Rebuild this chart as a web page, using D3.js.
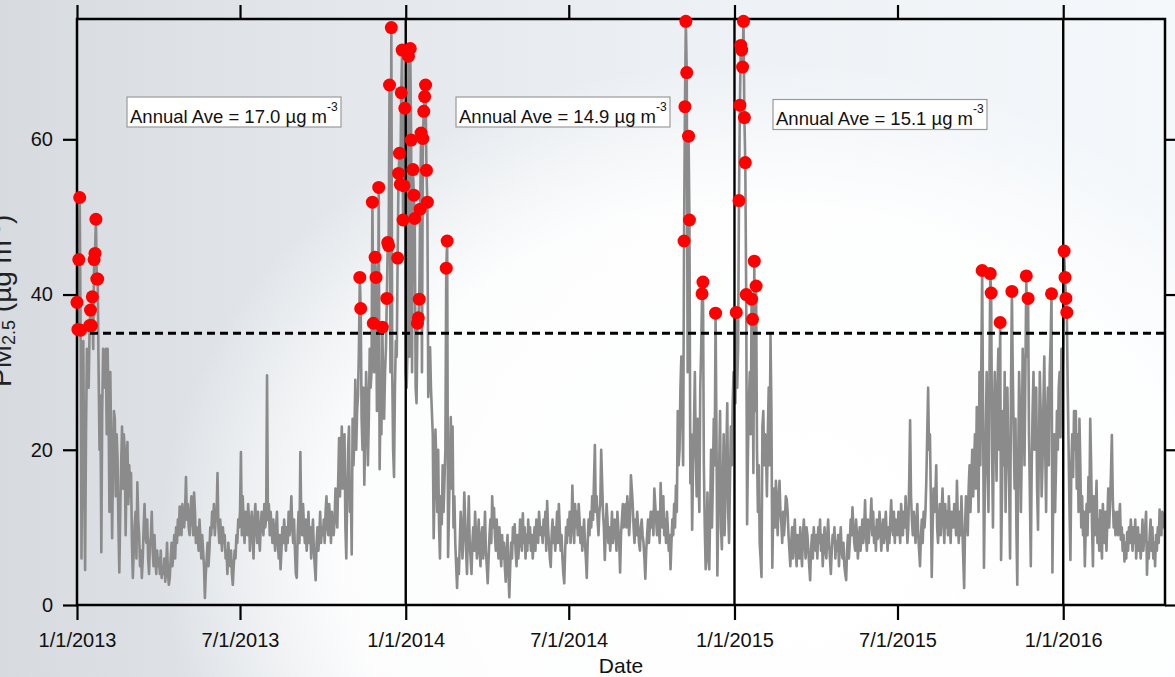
<!DOCTYPE html>
<html>
<head>
<meta charset="utf-8">
<script src="https://cdn.jsdelivr.net/npm/d3@7"></script>
<style>
  html, body { margin: 0; padding: 0; overflow: hidden; background: #e4e8ec; }
  svg { display: block; font-family: Arial, "Liberation Sans", sans-serif; }
</style>
</head>
<body>
<svg id="chart" width="1175" height="677"></svg>
<script>
// daily PM2.5 (ug/m3), one array per month
const pm2013 = [
  [39, 35.5, 44.5, 52.5, 35.4, 6, 28, 34, 15, 4.5, 22, 33, 30, 28, 36, 38, 36, 39.7, 33, 44.5, 45.3, 49.7, 42, 42, 30, 20, 27, 6.8, 25, 33, 32],
  [28, 33, 22, 33, 26, 12, 30, 20, 8.6, 18, 25, 24, 14, 22, 19, 10, 4.2, 12, 18, 23, 15, 22, 20, 9, 17, 21, 13, 18],
  [14, 17, 8, 3.5, 7, 10.4, 12, 6, 15.8, 11, 9, 5, 7, 3.5, 6, 10, 13, 9, 8, 11, 6, 4, 8, 8.8, 12, 7, 5, 9, 6, 4, 7],
  [5, 6, 4, 7, 3.5, 5, 4, 6, 3, 5, 8, 4, 2.6, 3.5, 6, 8, 5, 7, 9, 6, 10, 8, 11, 9, 12.7, 10, 9, 13, 11, 10],
  [12, 16.5, 11, 13, 10, 9, 12, 14, 11, 9, 14.5, 12, 8, 10, 9, 7, 11, 8.7, 6, 9, 7, 5, 0.9, 4, 6, 8, 5, 7, 10, 9, 12],
  [10, 13, 9, 11, 12, 17, 10, 8, 11, 9, 7, 10, 8, 9, 6, 7, 4, 8, 6, 5, 7, 4, 2.6, 5, 7, 6, 9, 8, 11, 10],
  [12, 19.7, 9, 14, 11, 8, 12, 10, 9, 13, 11, 7, 10, 12, 9, 6, 11, 13, 10, 8, 12, 9, 7, 10, 12, 11, 9, 13, 10, 11, 29.6],
  [11, 13, 9, 12, 10, 8, 11, 9, 7, 10, 12, 8, 6, 9, 4.6, 7, 10, 8, 11, 9, 7, 10, 8, 12, 9, 11, 14, 10, 8, 11, 7],
  [4, 3.5, 9, 12, 8, 19.7, 11, 9, 13, 10, 8, 11, 7, 9, 12, 8, 10, 6, 9, 11, 7, 5, 3.2, 8, 10, 7, 9, 12, 8, 10],
  [9, 11, 8, 12, 14, 10, 9, 13, 11, 8, 12, 10, 9, 11, 15, 12, 10, 16, 21.5, 14, 18, 23, 15, 19, 22, 10, 6, 14, 20, 23, 12],
  [15, 6.5, 24, 18, 22, 29, 20, 25, 27, 33, 42.2, 38.2, 24, 20, 28, 15.5, 22, 30, 26, 18, 24, 33, 28, 30, 51.9, 36.3, 30, 44.8, 42.2, 25],
  [30, 53.8, 17.5, 26, 22, 35.8, 28, 24, 30, 33, 39.5, 46.7, 46.3, 67, 30, 74.4, 30, 20, 16.5, 28, 34, 32, 44.7, 55.6, 58.2, 54.2, 66, 71.5, 49.6, 54, 64]
];
const pm2014 = [
  [30, 28, 33, 70.7, 32, 71.7, 59.9, 30, 56.1, 52.8, 49.8, 28, 26, 36.3, 37, 39.4, 51, 60.8, 30, 60.1, 63.6, 65.5, 67, 56, 51.9, 26.8, 30, 33.2, 28, 25, 22],
  [8.6, 15, 22.6, 18, 12, 20, 10, 6, 14, 10.4, 18, 12, 16, 20, 43.4, 46.9, 6.2, 12, 18, 24.2, 15, 23, 10, 14, 8, 5, 2.2, 6],
  [4, 8, 12, 10, 6, 9, 14.5, 11, 7, 4, 9, 14, 8, 6, 4, 8, 10, 7, 12, 9, 6, 8, 11, 7, 5, 9, 10, 6, 8, 12, 7],
  [5, 2.8, 6, 9, 11, 8, 14, 10, 12.5, 9, 7, 11, 8, 6, 10, 7, 5, 9, 6, 8, 5, 3, 7, 9, 4, 1, 5, 8, 6, 10],
  [8, 10.4, 7, 5, 9, 6, 8, 11, 9, 7, 11.8, 8, 10, 6, 9, 7, 11, 8, 10, 7, 9, 6, 8, 10, 7, 11, 9, 8, 12, 10, 9],
  [10, 8, 11, 9, 12, 7, 13.4, 10, 8, 6, 4.9, 9, 11, 8, 10, 7, 9, 12, 8, 13, 10, 7, 9, 6, 4, 2.8, 7, 10, 8, 11],
  [9, 12, 8, 10, 15.4, 11, 8, 13, 10, 12, 9, 13, 11, 8, 10, 7, 9, 11, 8, 6, 3.5, 8, 11, 9, 12, 10, 14, 11, 16, 20.6, 12],
  [14, 11, 9, 12, 13, 20, 16, 12, 10, 5.8, 9, 13, 11, 8, 10, 7, 9, 12, 8, 10, 11, 9, 7, 12, 10, 8, 4.2, 9, 11, 13, 10],
  [11, 13, 10, 14, 12, 9, 11, 16.7, 15, 13, 10, 8, 11, 9, 12, 10, 8, 7, 10, 11, 9, 8, 6, 3.4, 7, 9, 11, 8, 10, 12],
  [10, 12, 9, 15, 13, 11, 9, 12, 10, 8, 15.7, 12, 10, 14, 9, 11, 8, 12, 10, 7, 9, 4.6, 8, 11, 9, 13, 10, 15.4, 12, 25, 18],
  [20, 28, 32, 25, 18, 46.9, 64.2, 75.2, 68.6, 30, 60.4, 49.6, 15.7, 22, 9.7, 18, 22.6, 30, 20, 14, 24, 16, 12, 28, 33, 40.1, 41.6, 18, 10, 4.6],
  [8, 14.5, 6, 4.6, 12, 20, 10, 16, 24, 18, 37.6, 22, 3.8, 12, 18, 25, 10, 7.2, 15, 22, 9, 14, 20, 26, 12, 8, 16, 23, 18, 26, 30]
];
const pm2015 = [
  [30, 26, 37.7, 28, 33, 52.1, 64.4, 72.1, 71.5, 69.3, 75.2, 62.8, 57, 40, 10.4, 20, 26, 30, 22, 39.4, 36.8, 17, 44.3, 25, 41.1, 20, 12, 18, 8, 6, 3.6],
  [23, 25, 18, 22, 20, 14, 22, 28, 18, 34.8, 25, 4.8, 12, 15, 10, 16, 12, 9, 14, 16, 12, 10.5, 8, 12, 9, 11, 14, 13.6],
  [12, 9, 7, 5, 8, 10, 6, 8.7, 11, 7, 5, 9, 8.5, 6, 10, 7, 5, 9, 11, 8, 6, 10, 9, 7, 5, 3.2, 7, 9, 6, 10, 8],
  [7, 9, 6, 10, 8, 11, 7, 9, 5, 8, 10, 7, 6, 9, 11, 8, 6, 4, 7, 9, 8, 10, 6, 8.2, 7, 9, 5, 8, 10, 7],
  [6, 8, 5, 4, 3.2, 7, 9, 6, 8, 11, 9, 12.6, 10, 8, 7, 11, 9, 6, 8, 10, 7, 9, 11, 8, 10, 13.5, 9, 7, 11, 8, 10],
  [11, 13.7, 9, 12, 8, 10, 7, 11, 8.5, 9, 12, 10, 7, 9, 11, 8, 10, 12, 9, 7, 10, 8, 11, 13.5, 10, 9, 12, 8, 11, 10],
  [9, 12, 10, 8, 13, 11, 9, 12, 10, 14, 11, 8, 10, 16, 23.8, 14, 11, 9, 12, 10, 8, 11, 13, 9, 7, 5, 9, 11, 8, 12, 10],
  [12, 16, 22, 28, 20, 22, 14, 3.6, 10, 15, 12, 14, 18, 10, 8, 11, 13, 9, 12, 15, 11, 8, 13, 10, 12, 9, 14, 11, 8, 12, 10],
  [10, 13, 12, 9, 16, 11, 8, 12, 9, 14, 10, 6, 2.2, 10, 14, 12, 9, 15, 18, 12, 16, 20, 14, 18, 22, 15, 25.5, 20, 12, 30],
  [18, 30, 43.1, 25, 4.8, 15, 22, 30, 18, 12, 28, 42.7, 40.2, 20, 10, 24, 30, 22, 16, 28, 33, 20, 36.4, 5.8, 14, 25, 18, 30, 12, 22, 28],
  [20, 15, 6, 28, 40.4, 30, 22, 15, 24, 10, 2.6, 18, 30, 25, 12, 20, 33, 28, 18, 30, 42.4, 32, 39.5, 22, 14, 5, 18, 25, 30, 20],
  [22, 28, 15, 9.7, 20, 30, 25, 14, 18, 26, 32, 20, 12, 24, 28, 18, 30, 34, 40.1, 4.2, 15, 22, 12, 18, 25, 20, 28, 30, 21.6, 33, 28]
];
const pm2016 = [
  [33, 45.6, 42.2, 39.5, 37.7, 28, 20, 12, 5.8, 18, 22, 16.5, 25, 20, 25, 15, 22, 12, 24, 18, 10, 14, 9, 12, 5, 10, 13, 9, 16.5, 12, 24],
  [18, 10, 5, 14, 9, 12, 16, 8, 11, 7, 12.2, 9, 6, 13, 10, 8, 12, 7, 11, 15, 10, 13, 17, 21.9, 14, 10, 12, 9, 11],
  [12, 9, 11, 13, 8.4, 10, 7, 9, 5.6, 8, 6, 9.4, 7, 10, 8, 11, 9, 7, 10, 8, 11, 6, 9, 10, 7, 9, 6, 8, 11, 7, 9],
  [10, 12, 3.9, 8, 6, 9, 11, 7, 10, 6, 8, 5, 9, 7, 10, 8, 12.3, 11, 9, 12, 11.5, 10, 11]
];

const threshold = 35;
const yTicks = [0, 20, 40, 60];
const xTicks = ["2013-01-01", "2013-07-01", "2014-01-01", "2014-07-01", "2015-01-01", "2015-07-01", "2016-01-01"];
const yearStarts = ["2014-01-01", "2015-01-01", "2016-01-01"];
const annualAve = [17.0, 14.9, 15.1];

function makeChart() {
  const parse = d3.timeParse("%Y-%m-%d");
  let series = [];
  [[2013, pm2013], [2014, pm2014], [2015, pm2015], [2016, pm2016]].forEach(([yr, months]) => {
    months.forEach((vals, m) => {
      vals.forEach((v, d) => series.push({ date: new Date(yr, m, d + 1), value: v }));
    });
  });

  const left = 77, right = 1165, top = 19, bottom = 605;
  let x = d3.scaleTime()
      .domain([parse("2013-01-01"), parse("2016-04-23")])
      .range([left, right]);
  let y = d3.scaleLinear()
      .domain([0, 75.5])
      .range([bottom, top]);

  let svg = d3.select("#chart");
  let defs = svg.append("defs");

  // slide background
  let lg = defs.append("linearGradient").attr("id", "bg").attr("x1", 0).attr("x2", 1).attr("y1", 0).attr("y2", 0);
  lg.append("stop").attr("offset", "0%").attr("stop-color", "#d7dbdf");
  lg.append("stop").attr("offset", "25%").attr("stop-color", "#e2e6ea");
  lg.append("stop").attr("offset", "60%").attr("stop-color", "#edf1f5");
  lg.append("stop").attr("offset", "100%").attr("stop-color", "#f4f8fb");
  let rg = defs.append("radialGradient").attr("id", "glow")
      .attr("gradientUnits", "userSpaceOnUse")
      .attr("cx", 760).attr("cy", 540).attr("r", 600)
      .attr("gradientTransform", "translate(760,540) scale(1,0.8) translate(-760,-540)");
  rg.append("stop").attr("offset", "0%").attr("stop-color", "#ffffff").attr("stop-opacity", 1);
  rg.append("stop").attr("offset", "70%").attr("stop-color", "#ffffff").attr("stop-opacity", 0.9);
  rg.append("stop").attr("offset", "100%").attr("stop-color", "#ffffff").attr("stop-opacity", 0);

  svg.append("rect").attr("width", 1175).attr("height", 677).attr("fill", "url(#bg)");
  svg.append("rect").attr("width", 1175).attr("height", 677).attr("fill", "url(#glow)");

  defs.append("clipPath").attr("id", "plot")
    .append("rect").attr("x", left).attr("y", 0).attr("width", right - left).attr("height", bottom);

  // daily series
  let line = d3.line()
      .x(d => x(d.date))
      .y(d => y(d.value));
  svg.append("path")
      .datum(series)
      .attr("clip-path", "url(#plot)")
      .attr("fill", "none")
      .attr("stroke", "#8b8b8b")
      .attr("stroke-width", 2.6)
      .attr("stroke-linejoin", "round")
      .attr("d", line);

  // 24-h standard
  svg.append("line")
      .attr("x1", left).attr("x2", right)
      .attr("y1", y(threshold)).attr("y2", y(threshold))
      .attr("stroke", "#000").attr("stroke-width", 3)
      .attr("stroke-dasharray", "8,5");

  // year separators
  svg.selectAll(".yr")
      .data(yearStarts.map(parse)).enter().append("line")
      .attr("x1", d => x(d)).attr("x2", d => x(d))
      .attr("y1", top).attr("y2", bottom)
      .attr("stroke", "#000").attr("stroke-width", 2.4);

  // frame
  svg.append("rect")
      .attr("x", left).attr("y", top)
      .attr("width", right - left).attr("height", bottom - top)
      .attr("fill", "none").attr("stroke", "#000").attr("stroke-width", 2.5);

  const fmt = d3.timeFormat("%-m/%-d/%Y");
  let tickDates = xTicks.map(parse);

  let styleAxis = g => {
    g.select(".domain").remove();
    g.selectAll(".tick line").attr("stroke", "#000").attr("stroke-width", 2.2);
    g.selectAll(".tick text").attr("fill", "#111").attr("font-size", 20).attr("font-family", "Arial, 'Liberation Sans', sans-serif");
  };

  svg.append("g").attr("transform", `translate(0,${bottom})`)
      .call(d3.axisBottom(x).tickValues(tickDates).tickSize(15).tickPadding(13).tickFormat(fmt))
      .call(styleAxis);
  svg.append("g").attr("transform", `translate(0,${top})`)
      .call(d3.axisTop(x).tickValues(tickDates).tickSize(14).tickFormat(""))
      .call(styleAxis);
  svg.append("g").attr("transform", `translate(${left},0)`)
      .call(d3.axisLeft(y).tickValues(yTicks).tickSize(14).tickPadding(10))
      .call(styleAxis);
  svg.append("g").attr("transform", `translate(${right},0)`)
      .call(d3.axisRight(y).tickValues(yTicks).tickSize(12).tickFormat(""))
      .call(styleAxis);

  // exceedance days
  svg.selectAll("circle")
      .data(series.filter(d => d.value > threshold)).enter().append("circle")
      .attr("cx", d => x(d.date))
      .attr("cy", d => y(d.value))
      .attr("r", 6.5)
      .attr("fill", "#ff0000");

  // annual average boxes
  const noteX = [127, 456, 773], noteY = [97, 97, 99.5];
  annualAve.forEach((v, i) => {
    let g = svg.append("g");
    let box = g.append("rect");
    let t = g.append("text")
        .attr("x", noteX[i] + 3).attr("y", noteY[i] + 25.5)
        .attr("font-size", 18.5).attr("fill", "#111");
    t.append("tspan").text(`Annual Ave = ${v.toFixed(1)} \u00b5g m`);
    t.append("tspan").attr("font-size", 12).attr("dy", -12).text("-3");
    let bb = t.node().getBBox();
    box.attr("x", noteX[i]).attr("y", noteY[i])
        .attr("width", bb.width + 6).attr("height", 30)
        .attr("fill", "#fff").attr("stroke", "#9a9a9a").attr("stroke-width", 1.2);
  });

  // axis titles
  svg.append("text")
      .attr("x", 621).attr("y", 673)
      .attr("text-anchor", "middle")
      .attr("font-size", 21).attr("fill", "#111")
      .text("Date");

  // y title sits partly off the left edge, as on the slide
  let yl = svg.append("text")
      .attr("transform", "translate(11,387) rotate(-90)")
      .attr("font-size", 28).attr("fill", "#222");
  yl.append("tspan").text("PM");
  yl.append("tspan").attr("font-size", 18).attr("dy", 4).text("2.5");
  yl.append("tspan").attr("dy", -4).text(" (\u00b5g m");
  yl.append("tspan").attr("font-size", 18).attr("dy", -11).text("-3");
  yl.append("tspan").attr("dy", 11).text(")");
}

makeChart();
</script>
</body>
</html>
